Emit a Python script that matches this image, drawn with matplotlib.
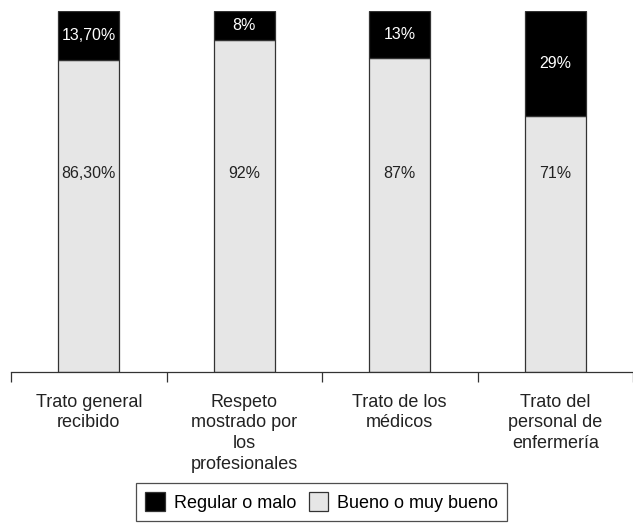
import numpy as np
import matplotlib.pyplot as plt

plt.rcParams['font.family'] = ['Liberation Sans', 'DejaVu Sans']

categorias = ['Trato general\nrecibido',
              'Respeto\nmostrado por\nlos\nprofesionales',
              'Trato de los\nmédicos',
              'Trato del\npersonal de\nenfermería']
bueno = [86.3, 92, 87, 71]
regular = [13.7, 8, 13, 29]
etiq_bueno = ['86,30%', '92%', '87%', '71%']
etiq_regular = ['13,70%', '8%', '13%', '29%']

fig = plt.figure(figsize=(6.33, 5.24), dpi=100)
ax = fig.add_axes([11 / 633, 152 / 524, 622 / 633, 361 / 524])

x = np.arange(len(categorias))
ancho = 0.39
b1 = ax.bar(x, bueno, ancho, color='#e6e6e6', edgecolor='#333333',
            linewidth=0.9, label='Bueno o muy bueno')
b2 = ax.bar(x, regular, ancho, bottom=bueno, color='black',
            edgecolor='#333333', linewidth=0.9, label='Regular o malo')

# porcentajes dentro de cada segmento
for i in range(len(x)):
    ax.text(x[i], 55, etiq_bueno[i], ha='center', va='center',
            fontsize=11.5, color='#222222')
    ax.text(x[i], bueno[i] + regular[i] / 2, etiq_regular[i],
            ha='center', va='center', fontsize=11.5, color='white')

ax.set_xlim(-0.5, len(x) - 0.5)
ax.set_ylim(0, 100)

for s in ['left', 'right', 'top']:
    ax.spines[s].set_visible(False)
ax.spines['bottom'].set_color('#333333')
ax.spines['bottom'].set_linewidth(0.9)
ax.set_yticks([])

# marcas entre categorías, etiquetas centradas
ax.set_xticks(np.arange(len(x) + 1) - 0.5)
ax.set_xticklabels([])
ax.tick_params(axis='x', which='major', length=7, width=0.9,
               color='#333333', direction='out')
ax.set_xticks(x, minor=True)
ax.set_xticklabels(categorias, minor=True, fontsize=13, color='#222222',
                   linespacing=1.3)
ax.tick_params(axis='x', which='minor', length=0, pad=15.5)

leg = fig.legend(handles=[b2, b1], labels=['Regular o malo', 'Bueno o muy bueno'],
                 loc='upper center', bbox_to_anchor=(0.508, 0.078), ncol=2,
                 fontsize=13, frameon=True, fancybox=False,
                 handlelength=1.1, handleheight=1.2, handletextpad=0.5,
                 columnspacing=0.7, borderpad=0.5, borderaxespad=0)
leg.get_frame().set_edgecolor('#222222')
leg.get_frame().set_linewidth(0.9)

fig.savefig('out.png', dpi=100)
